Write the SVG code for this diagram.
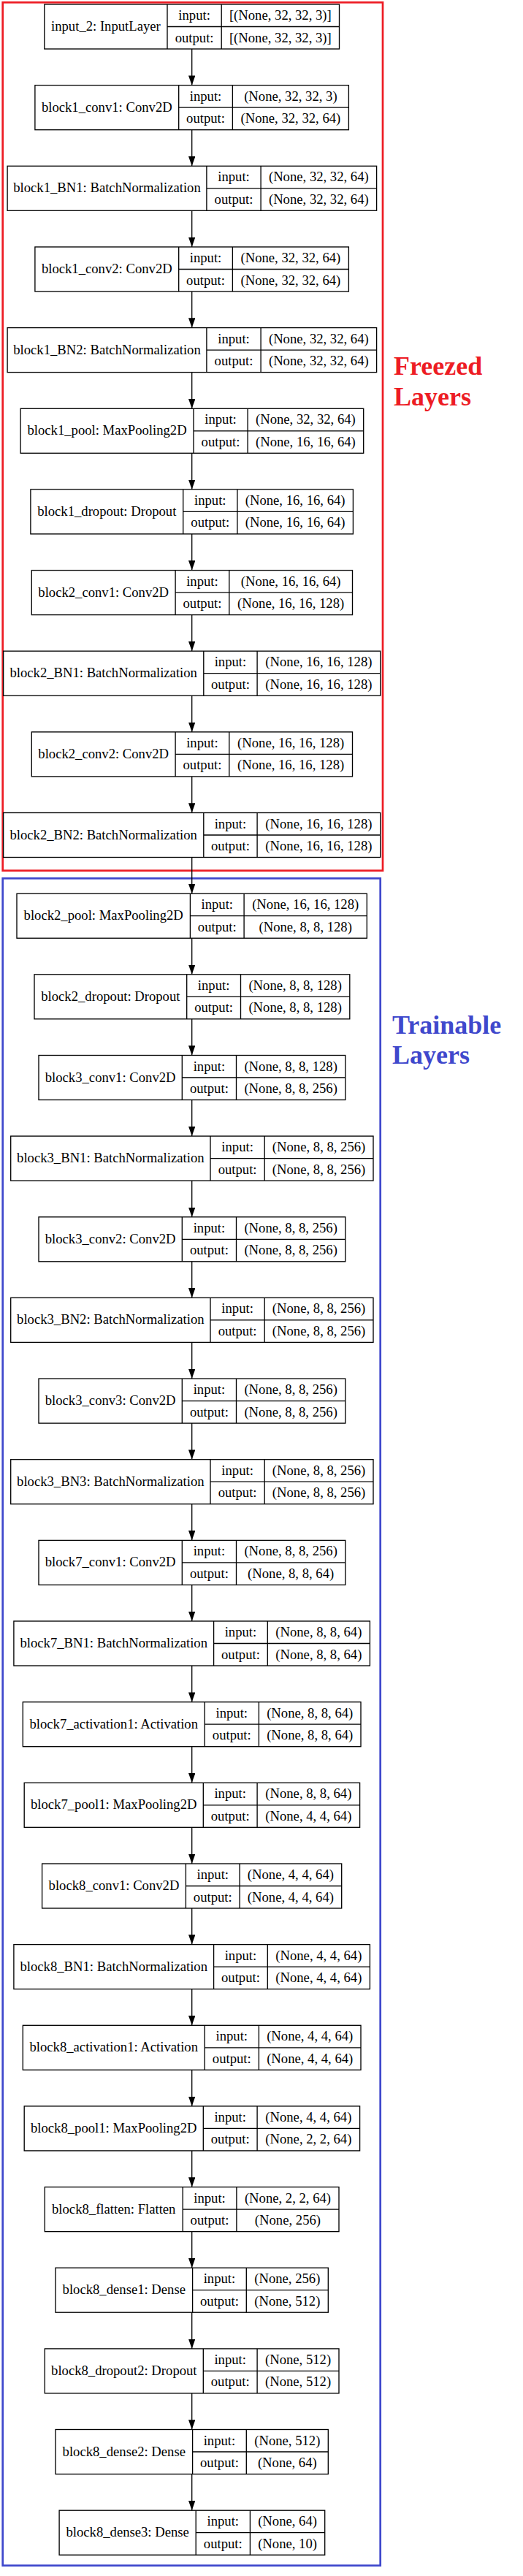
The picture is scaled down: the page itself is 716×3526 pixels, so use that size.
<svg xmlns="http://www.w3.org/2000/svg" width="716" height="3526" viewBox="0 0 716 3526">
<style>
.box{fill:none;stroke:#000;stroke-width:1.33}
text{font-family:"Liberation Serif","Times New Roman",serif;font-size:18.67px;fill:#000;text-anchor:middle}
.ann{font-weight:bold;font-size:36px;text-anchor:start}
.edge{stroke:#000;stroke-width:1.33;fill:none;marker-end:url(#ah)}
</style>
<defs>
<marker id="ah" markerUnits="userSpaceOnUse" markerWidth="14" markerHeight="10" refX="13.3" refY="4.7" orient="auto" viewBox="0 0 14 10">
<path d="M0,0L13.3,4.7L0,9.4z" fill="#000"/>
</marker>
</defs>
<rect width="716" height="3526" fill="#fff"/>
<g id="freezed-group">
<rect x="3.7" y="3.3" width="520.3" height="1188.4" fill="none" stroke="#ED1C24" stroke-width="2.7"/>
<text class="ann" x="539" y="512.7" fill="#ED1C24" style="fill:#ED1C24">Freezed</text>
<text class="ann" x="539" y="555" style="fill:#ED1C24">Layers</text>
</g>
<g id="trainable-group">
<rect x="3.7" y="1202.3" width="517" height="2309.4" fill="none" stroke="#3F48CC" stroke-width="2.7"/>
<text class="ann" x="537" y="1415" style="fill:#3F48CC">Trainable</text>
<text class="ann" x="537" y="1456" style="fill:#3F48CC">Layers</text>
</g>
<g id="connectors">
<path class="edge" d="M262.7 67V116.7"/>
<path class="edge" d="M262.7 177.7V227.3"/>
<path class="edge" d="M262.7 288.3V338"/>
<path class="edge" d="M262.7 399V448.6"/>
<path class="edge" d="M262.7 509.6V559.3"/>
<path class="edge" d="M262.7 620.3V669.9"/>
<path class="edge" d="M262.7 730.9V780.6"/>
<path class="edge" d="M262.7 841.6V891.2"/>
<path class="edge" d="M262.7 952.2V1001.9"/>
<path class="edge" d="M262.7 1062.9V1112.5"/>
<path class="edge" d="M262.7 1173.5V1223.2"/>
<path class="edge" d="M262.7 1284.2V1333.8"/>
<path class="edge" d="M262.7 1394.8V1444.5"/>
<path class="edge" d="M262.7 1505.5V1555.1"/>
<path class="edge" d="M262.7 1616.1V1665.8"/>
<path class="edge" d="M262.7 1726.8V1776.4"/>
<path class="edge" d="M262.7 1837.4V1887.1"/>
<path class="edge" d="M262.7 1948.1V1997.7"/>
<path class="edge" d="M262.7 2058.7V2108.4"/>
<path class="edge" d="M262.7 2169.4V2219"/>
<path class="edge" d="M262.7 2280V2329.7"/>
<path class="edge" d="M262.7 2390.7V2440.3"/>
<path class="edge" d="M262.7 2501.3V2551"/>
<path class="edge" d="M262.7 2612V2661.6"/>
<path class="edge" d="M262.7 2722.6V2772.3"/>
<path class="edge" d="M262.7 2833.3V2882.9"/>
<path class="edge" d="M262.7 2943.9V2993.6"/>
<path class="edge" d="M262.7 3054.6V3104.2"/>
<path class="edge" d="M262.7 3165.2V3214.9"/>
<path class="edge" d="M262.7 3275.9V3325.5"/>
<path class="edge" d="M262.7 3386.5V3436.2"/>
</g>
<g id="input_2">
<rect class="box" x="60.8" y="6" width="403.7" height="61"/>
<path class="box" d="M229 6V67M303.2 6V67M229 36.5H464.5"/>
<text x="144.9" y="42">input_2: InputLayer</text>
<text x="266.1" y="27">input:</text><text x="266.1" y="57.5">output:</text>
<text x="383.85" y="27">[(None, 32, 32, 3)]</text><text x="383.85" y="57.5">[(None, 32, 32, 3)]</text>
</g>
<g id="block1_conv1">
<rect class="box" x="47.9" y="116.7" width="429.5" height="61"/>
<path class="box" d="M244.7 116.7V177.7M318.4 116.7V177.7M244.7 147.2H477.4"/>
<text x="146.3" y="152.7">block1_conv1: Conv2D</text>
<text x="281.55" y="137.7">input:</text><text x="281.55" y="168.2">output:</text>
<text x="397.9" y="137.7">(None, 32, 32, 3)</text><text x="397.9" y="168.2">(None, 32, 32, 64)</text>
</g>
<g id="block1_BN1">
<rect class="box" x="10.1" y="227.3" width="505.5" height="61"/>
<path class="box" d="M282.9 227.3V288.3M357.1 227.3V288.3M282.9 257.8H515.6"/>
<text x="146.5" y="263.3">block1_BN1: BatchNormalization</text>
<text x="320" y="248.3">input:</text><text x="320" y="278.8">output:</text>
<text x="436.35" y="248.3">(None, 32, 32, 64)</text><text x="436.35" y="278.8">(None, 32, 32, 64)</text>
</g>
<g id="block1_conv2">
<rect class="box" x="47.9" y="338" width="429.5" height="61"/>
<path class="box" d="M244.7 338V399M318.4 338V399M244.7 368.5H477.4"/>
<text x="146.3" y="374">block1_conv2: Conv2D</text>
<text x="281.55" y="359">input:</text><text x="281.55" y="389.5">output:</text>
<text x="397.9" y="359">(None, 32, 32, 64)</text><text x="397.9" y="389.5">(None, 32, 32, 64)</text>
</g>
<g id="block1_BN2">
<rect class="box" x="10.1" y="448.6" width="505.5" height="61"/>
<path class="box" d="M282.9 448.6V509.6M357.1 448.6V509.6M282.9 479.1H515.6"/>
<text x="146.5" y="484.6">block1_BN2: BatchNormalization</text>
<text x="320" y="469.6">input:</text><text x="320" y="500.1">output:</text>
<text x="436.35" y="469.6">(None, 32, 32, 64)</text><text x="436.35" y="500.1">(None, 32, 32, 64)</text>
</g>
<g id="block1_pool">
<rect class="box" x="28.1" y="559.3" width="469.6" height="61"/>
<path class="box" d="M265 559.3V620.3M339.1 559.3V620.3M265 589.8H497.7"/>
<text x="146.55" y="595.3">block1_pool: MaxPooling2D</text>
<text x="302.05" y="580.3">input:</text><text x="302.05" y="610.8">output:</text>
<text x="418.4" y="580.3">(None, 32, 32, 64)</text><text x="418.4" y="610.8">(None, 16, 16, 64)</text>
</g>
<g id="block1_dropout">
<rect class="box" x="41.9" y="669.9" width="441.5" height="61"/>
<path class="box" d="M250.7 669.9V730.9M324.9 669.9V730.9M250.7 700.4H483.4"/>
<text x="146.3" y="705.9">block1_dropout: Dropout</text>
<text x="287.8" y="690.9">input:</text><text x="287.8" y="721.4">output:</text>
<text x="404.15" y="690.9">(None, 16, 16, 64)</text><text x="404.15" y="721.4">(None, 16, 16, 64)</text>
</g>
<g id="block2_conv1">
<rect class="box" x="43.3" y="780.6" width="439.2" height="61"/>
<path class="box" d="M240.1 780.6V841.6M313.8 780.6V841.6M240.1 811.1H482.5"/>
<text x="141.7" y="816.6">block2_conv1: Conv2D</text>
<text x="276.95" y="801.6">input:</text><text x="276.95" y="832.1">output:</text>
<text x="398.15" y="801.6">(None, 16, 16, 64)</text><text x="398.15" y="832.1">(None, 16, 16, 128)</text>
</g>
<g id="block2_BN1">
<rect class="box" x="4.6" y="891.2" width="516.1" height="61"/>
<path class="box" d="M278.8 891.2V952.2M352.1 891.2V952.2M278.8 921.7H520.7"/>
<text x="141.7" y="927.2">block2_BN1: BatchNormalization</text>
<text x="315.45" y="912.2">input:</text><text x="315.45" y="942.7">output:</text>
<text x="436.4" y="912.2">(None, 16, 16, 128)</text><text x="436.4" y="942.7">(None, 16, 16, 128)</text>
</g>
<g id="block2_conv2">
<rect class="box" x="43.3" y="1001.9" width="439.2" height="61"/>
<path class="box" d="M240.1 1001.9V1062.9M313.8 1001.9V1062.9M240.1 1032.4H482.5"/>
<text x="141.7" y="1037.9">block2_conv2: Conv2D</text>
<text x="276.95" y="1022.9">input:</text><text x="276.95" y="1053.4">output:</text>
<text x="398.15" y="1022.9">(None, 16, 16, 128)</text><text x="398.15" y="1053.4">(None, 16, 16, 128)</text>
</g>
<g id="block2_BN2">
<rect class="box" x="4.6" y="1112.5" width="516.1" height="61"/>
<path class="box" d="M278.8 1112.5V1173.5M352.1 1112.5V1173.5M278.8 1143H520.7"/>
<text x="141.7" y="1148.5">block2_BN2: BatchNormalization</text>
<text x="315.45" y="1133.5">input:</text><text x="315.45" y="1164">output:</text>
<text x="436.4" y="1133.5">(None, 16, 16, 128)</text><text x="436.4" y="1164">(None, 16, 16, 128)</text>
</g>
<g id="block2_pool">
<rect class="box" x="23" y="1223.2" width="479.3" height="61"/>
<path class="box" d="M260.4 1223.2V1284.2M334.1 1223.2V1284.2M260.4 1253.7H502.3"/>
<text x="141.7" y="1259.2">block2_pool: MaxPooling2D</text>
<text x="297.25" y="1244.2">input:</text><text x="297.25" y="1274.7">output:</text>
<text x="418.2" y="1244.2">(None, 16, 16, 128)</text><text x="418.2" y="1274.7">(None, 8, 8, 128)</text>
</g>
<g id="block2_dropout">
<rect class="box" x="47" y="1333.8" width="431.8" height="61"/>
<path class="box" d="M255.7 1333.8V1394.8M329.5 1333.8V1394.8M255.7 1364.3H478.8"/>
<text x="151.35" y="1369.8">block2_dropout: Dropout</text>
<text x="292.6" y="1354.8">input:</text><text x="292.6" y="1385.3">output:</text>
<text x="404.15" y="1354.8">(None, 8, 8, 128)</text><text x="404.15" y="1385.3">(None, 8, 8, 128)</text>
</g>
<g id="block3_conv1">
<rect class="box" x="53" y="1444.5" width="419.8" height="61"/>
<path class="box" d="M249.3 1444.5V1505.5M323.5 1444.5V1505.5M249.3 1475H472.8"/>
<text x="151.15" y="1480.5">block3_conv1: Conv2D</text>
<text x="286.4" y="1465.5">input:</text><text x="286.4" y="1496">output:</text>
<text x="398.15" y="1465.5">(None, 8, 8, 128)</text><text x="398.15" y="1496">(None, 8, 8, 256)</text>
</g>
<g id="block3_BN1">
<rect class="box" x="14.7" y="1555.1" width="496.3" height="61"/>
<path class="box" d="M288 1555.1V1616.1M362.2 1555.1V1616.1M288 1585.6H511"/>
<text x="151.35" y="1591.1">block3_BN1: BatchNormalization</text>
<text x="325.1" y="1576.1">input:</text><text x="325.1" y="1606.6">output:</text>
<text x="436.6" y="1576.1">(None, 8, 8, 256)</text><text x="436.6" y="1606.6">(None, 8, 8, 256)</text>
</g>
<g id="block3_conv2">
<rect class="box" x="53" y="1665.8" width="419.8" height="61"/>
<path class="box" d="M249.3 1665.8V1726.8M323.5 1665.8V1726.8M249.3 1696.3H472.8"/>
<text x="151.15" y="1701.8">block3_conv2: Conv2D</text>
<text x="286.4" y="1686.8">input:</text><text x="286.4" y="1717.3">output:</text>
<text x="398.15" y="1686.8">(None, 8, 8, 256)</text><text x="398.15" y="1717.3">(None, 8, 8, 256)</text>
</g>
<g id="block3_BN2">
<rect class="box" x="14.7" y="1776.4" width="496.3" height="61"/>
<path class="box" d="M288 1776.4V1837.4M362.2 1776.4V1837.4M288 1806.9H511"/>
<text x="151.35" y="1812.4">block3_BN2: BatchNormalization</text>
<text x="325.1" y="1797.4">input:</text><text x="325.1" y="1827.9">output:</text>
<text x="436.6" y="1797.4">(None, 8, 8, 256)</text><text x="436.6" y="1827.9">(None, 8, 8, 256)</text>
</g>
<g id="block3_conv3">
<rect class="box" x="53" y="1887.1" width="419.8" height="61"/>
<path class="box" d="M249.3 1887.1V1948.1M323.5 1887.1V1948.1M249.3 1917.6H472.8"/>
<text x="151.15" y="1923.1">block3_conv3: Conv2D</text>
<text x="286.4" y="1908.1">input:</text><text x="286.4" y="1938.6">output:</text>
<text x="398.15" y="1908.1">(None, 8, 8, 256)</text><text x="398.15" y="1938.6">(None, 8, 8, 256)</text>
</g>
<g id="block3_BN3">
<rect class="box" x="14.7" y="1997.7" width="496.3" height="61"/>
<path class="box" d="M288 1997.7V2058.7M362.2 1997.7V2058.7M288 2028.2H511"/>
<text x="151.35" y="2033.7">block3_BN3: BatchNormalization</text>
<text x="325.1" y="2018.7">input:</text><text x="325.1" y="2049.2">output:</text>
<text x="436.6" y="2018.7">(None, 8, 8, 256)</text><text x="436.6" y="2049.2">(None, 8, 8, 256)</text>
</g>
<g id="block7_conv1">
<rect class="box" x="53" y="2108.4" width="419.8" height="61"/>
<path class="box" d="M249.3 2108.4V2169.4M323.5 2108.4V2169.4M249.3 2138.9H472.8"/>
<text x="151.15" y="2144.4">block7_conv1: Conv2D</text>
<text x="286.4" y="2129.4">input:</text><text x="286.4" y="2159.9">output:</text>
<text x="398.15" y="2129.4">(None, 8, 8, 256)</text><text x="398.15" y="2159.9">(None, 8, 8, 64)</text>
</g>
<g id="block7_BN1">
<rect class="box" x="18.9" y="2219" width="487.5" height="61"/>
<path class="box" d="M292.6 2219V2280M366.3 2219V2280M292.6 2249.5H506.4"/>
<text x="155.75" y="2255">block7_BN1: BatchNormalization</text>
<text x="329.45" y="2240">input:</text><text x="329.45" y="2270.5">output:</text>
<text x="436.35" y="2240">(None, 8, 8, 64)</text><text x="436.35" y="2270.5">(None, 8, 8, 64)</text>
</g>
<g id="block7_activation1">
<rect class="box" x="31.3" y="2329.7" width="462.7" height="61"/>
<path class="box" d="M280.2 2329.7V2390.7M354.4 2329.7V2390.7M280.2 2360.2H494"/>
<text x="155.75" y="2365.7">block7_activation1: Activation</text>
<text x="317.3" y="2350.7">input:</text><text x="317.3" y="2381.2">output:</text>
<text x="424.2" y="2350.7">(None, 8, 8, 64)</text><text x="424.2" y="2381.2">(None, 8, 8, 64)</text>
</g>
<g id="block7_pool1">
<rect class="box" x="33.2" y="2440.3" width="459.4" height="61"/>
<path class="box" d="M278.3 2440.3V2501.3M352.1 2440.3V2501.3M278.3 2470.8H492.6"/>
<text x="155.75" y="2476.3">block7_pool1: MaxPooling2D</text>
<text x="315.2" y="2461.3">input:</text><text x="315.2" y="2491.8">output:</text>
<text x="422.35" y="2461.3">(None, 8, 8, 64)</text><text x="422.35" y="2491.8">(None, 4, 4, 64)</text>
</g>
<g id="block8_conv1">
<rect class="box" x="57.6" y="2551" width="410.1" height="61"/>
<path class="box" d="M254.4 2551V2612M328.1 2551V2612M254.4 2581.5H467.7"/>
<text x="156" y="2587">block8_conv1: Conv2D</text>
<text x="291.25" y="2572">input:</text><text x="291.25" y="2602.5">output:</text>
<text x="397.9" y="2572">(None, 4, 4, 64)</text><text x="397.9" y="2602.5">(None, 4, 4, 64)</text>
</g>
<g id="block8_BN1">
<rect class="box" x="18.9" y="2661.6" width="487.5" height="61"/>
<path class="box" d="M292.6 2661.6V2722.6M366.3 2661.6V2722.6M292.6 2692.1H506.4"/>
<text x="155.75" y="2697.6">block8_BN1: BatchNormalization</text>
<text x="329.45" y="2682.6">input:</text><text x="329.45" y="2713.1">output:</text>
<text x="436.35" y="2682.6">(None, 4, 4, 64)</text><text x="436.35" y="2713.1">(None, 4, 4, 64)</text>
</g>
<g id="block8_activation1">
<rect class="box" x="31.3" y="2772.3" width="462.7" height="61"/>
<path class="box" d="M280.2 2772.3V2833.3M354.4 2772.3V2833.3M280.2 2802.8H494"/>
<text x="155.75" y="2808.3">block8_activation1: Activation</text>
<text x="317.3" y="2793.3">input:</text><text x="317.3" y="2823.8">output:</text>
<text x="424.2" y="2793.3">(None, 4, 4, 64)</text><text x="424.2" y="2823.8">(None, 4, 4, 64)</text>
</g>
<g id="block8_pool1">
<rect class="box" x="33.2" y="2882.9" width="459.4" height="61"/>
<path class="box" d="M278.3 2882.9V2943.9M352.1 2882.9V2943.9M278.3 2913.4H492.6"/>
<text x="155.75" y="2918.9">block8_pool1: MaxPooling2D</text>
<text x="315.2" y="2903.9">input:</text><text x="315.2" y="2934.4">output:</text>
<text x="422.35" y="2903.9">(None, 4, 4, 64)</text><text x="422.35" y="2934.4">(None, 2, 2, 64)</text>
</g>
<g id="block8_flatten">
<rect class="box" x="61.3" y="2993.6" width="402.7" height="61"/>
<path class="box" d="M250.2 2993.6V3054.6M323.9 2993.6V3054.6M250.2 3024.1H464"/>
<text x="155.75" y="3029.6">block8_flatten: Flatten</text>
<text x="287.05" y="3014.6">input:</text><text x="287.05" y="3045.1">output:</text>
<text x="393.95" y="3014.6">(None, 2, 2, 64)</text><text x="393.95" y="3045.1">(None, 256)</text>
</g>
<g id="block8_dense1">
<rect class="box" x="76" y="3104.2" width="373.3" height="61"/>
<path class="box" d="M263.6 3104.2V3165.2M337.3 3104.2V3165.2M263.6 3134.7H449.3"/>
<text x="169.8" y="3140.2">block8_dense1: Dense</text>
<text x="300.45" y="3125.2">input:</text><text x="300.45" y="3155.7">output:</text>
<text x="393.3" y="3125.2">(None, 256)</text><text x="393.3" y="3155.7">(None, 512)</text>
</g>
<g id="block8_dropout2">
<rect class="box" x="61.3" y="3214.9" width="402.7" height="61"/>
<path class="box" d="M278.3 3214.9V3275.9M352.1 3214.9V3275.9M278.3 3245.4H464"/>
<text x="169.8" y="3250.9">block8_dropout2: Dropout</text>
<text x="315.2" y="3235.9">input:</text><text x="315.2" y="3266.4">output:</text>
<text x="408.05" y="3235.9">(None, 512)</text><text x="408.05" y="3266.4">(None, 512)</text>
</g>
<g id="block8_dense2">
<rect class="box" x="76" y="3325.5" width="373.3" height="61"/>
<path class="box" d="M263.6 3325.5V3386.5M337.3 3325.5V3386.5M263.6 3356H449.3"/>
<text x="169.8" y="3361.5">block8_dense2: Dense</text>
<text x="300.45" y="3346.5">input:</text><text x="300.45" y="3377">output:</text>
<text x="393.3" y="3346.5">(None, 512)</text><text x="393.3" y="3377">(None, 64)</text>
</g>
<g id="block8_dense3">
<rect class="box" x="81.1" y="3436.2" width="363.6" height="61"/>
<path class="box" d="M268.2 3436.2V3497.2M342.4 3436.2V3497.2M268.2 3466.7H444.7"/>
<text x="174.65" y="3472.2">block8_dense3: Dense</text>
<text x="305.3" y="3457.2">input:</text><text x="305.3" y="3487.7">output:</text>
<text x="393.55" y="3457.2">(None, 64)</text><text x="393.55" y="3487.7">(None, 10)</text>
</g>
</svg>
